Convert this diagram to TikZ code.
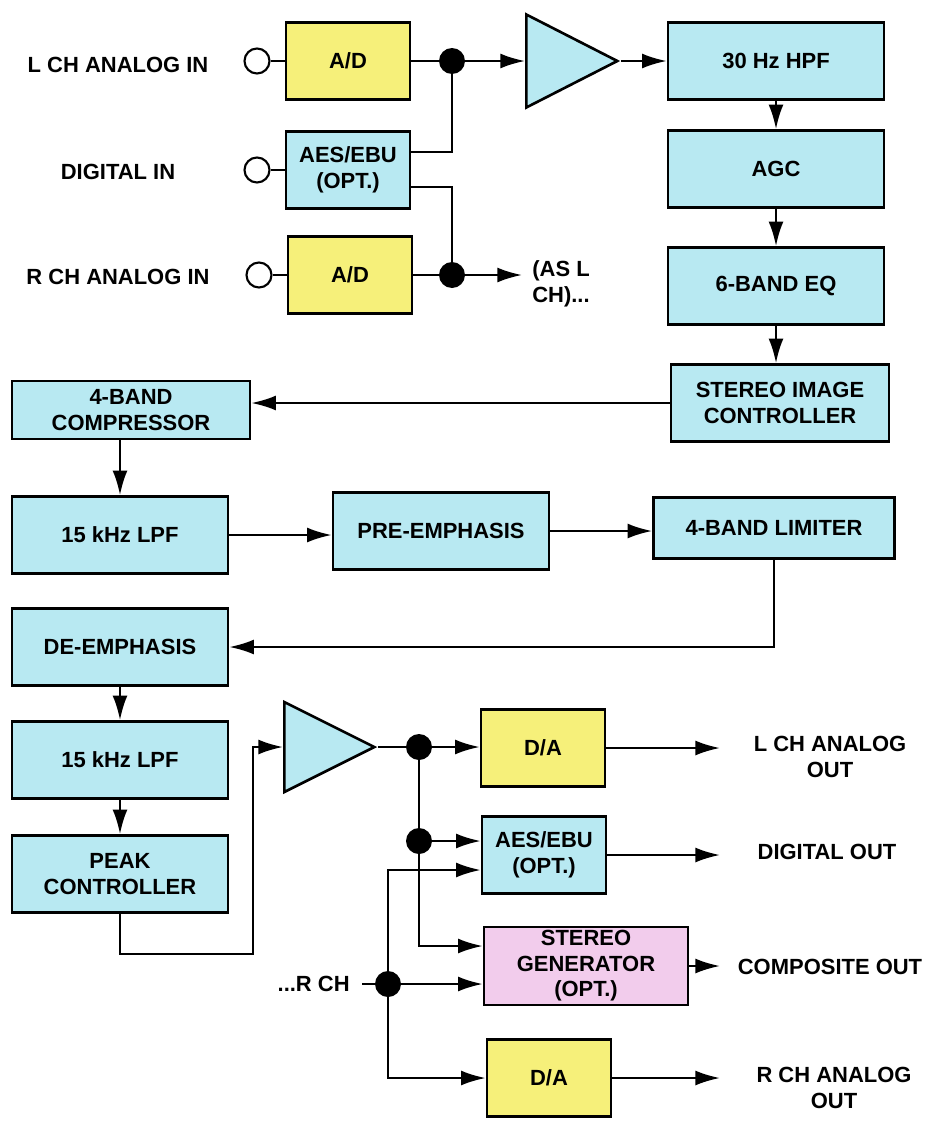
\documentclass[tikz,border=0pt]{standalone}
\usepackage{fontspec}
\setmainfont{Liberation Sans}
\usetikzlibrary{arrows.meta,shapes.geometric,calc}
\definecolor{adyellow}{RGB}{246,240,122}
\definecolor{dspcyan}{RGB}{184,233,242}
\definecolor{genpink}{RGB}{242,204,236}
\tikzset{block/.style = {shape = rectangle, draw, line width = 1.5pt, fill = dspcyan, align = center, inner sep = 0pt, font = \bfseries\fontsize{12.5}{14.5}\selectfont}}
\tikzset{conv/.style = {block, fill = adyellow}}
\tikzset{wide/.style = {minimum width = 4.32cm, minimum height = 1.54cm}}
\tikzset{narrow/.style = {minimum width = 2.48cm, minimum height = 1.54cm}}
\tikzset{amp/.style = {shape = isosceles triangle, isosceles triangle stretches, draw, line width = 1.5pt, fill = dspcyan, inner sep = 0pt}}
\tikzset{jack/.style = {shape = circle, draw, line width = 1.2pt, fill = white, minimum size = 0.5cm, inner sep = 0pt}}
\tikzset{dot/.style = {shape = circle, fill = black, minimum size = 0.52cm, inner sep = 0pt}}
\tikzset{sigtext/.style = {align = center, font = \bfseries\fontsize{12.5}{14.5}\selectfont}}
\tikzset{wire/.style = {line width = 1.3pt}}
\tikzset{signal/.style = {wire, ->, > = {Latex[length=14pt, width=8.5pt]}}}

\begin{document}
\begin{tikzpicture}[x=0.02cm, y=-0.02cm]
			\useasboundingbox (0,0) rectangle (934,1126);

			% inputs
			\node[sigtext] (lchin) at (118,65) {L CH ANALOG IN};
			\node[sigtext] (digin) at (118,172) {DIGITAL IN};
			\node[sigtext] (rchin) at (118,277) {R CH ANALOG IN};
			\node[jack] (inL) at (257,61) {};
			\node[jack] (inD) at (257,170) {};
			\node[jack] (inR) at (259,275) {};
			\node[conv, narrow] (adL) at (348,61) {A/D};
			\node[block, narrow] (aes) at (348,170) {AES/EBU\\(OPT.)};
			\node[conv, narrow] (adR) at (350,275) {A/D};
			\node[dot] (dotL) at (452,61) {};
			\node[dot] (dotR) at (452,275) {};
			\node[sigtext, anchor = west, align = left, inner xsep = 0.2cm] (asl) at (522,284) {(AS L\\CH)...};
			\node[amp, minimum width = 1.86cm, minimum height = 1.82cm, anchor = west] (amp1) at (525,61) {};

			% processing chain
			\node[block, wide] (hpf) at (776,61) {30 Hz HPF};
			\node[block, wide] (agc) at (776,169) {AGC};
			\node[block, wide] (eq) at (776,286) {6-BAND EQ};
			\node[block, wide, minimum width = 4.36cm] (sic) at (780,403) {STEREO IMAGE\\CONTROLLER};
			\node[block, minimum width = 4.76cm, minimum height = 1.16cm] (comp) at (131,410) {4-BAND\\COMPRESSOR};
			\node[block, wide] (lpf1) at (120,535) {15 kHz LPF};
			\node[block, wide] (pre) at (441,531) {PRE-EMPHASIS};
			\node[block, minimum width = 4.82cm, minimum height = 1.22cm] (lim) at (774,528) {4-BAND LIMITER};
			\node[block, wide] (de) at (120,647) {DE-EMPHASIS};
			\node[block, wide] (lpf2) at (120,760) {15 kHz LPF};
			\node[block, wide] (peak) at (120,874) {PEAK\\CONTROLLER};
			\coordinate (pkbend) at (253,954);
			\node[amp, minimum width = 1.8cm, minimum height = 1.8cm, anchor = west] (amp2) at (283,747) {};

			% outputs
			\node[dot] (dot1) at (419,747) {};
			\node[dot] (dot2) at (419,841) {};
			\node[dot] (dot3) at (388,984) {};
			\node[sigtext, anchor = east, inner xsep = 0.24cm] (rch) at (362,984) {...R CH};
			\node[conv, narrow] (daL) at (543,748) {D/A};
			\node[block, narrow] (aesout) at (544,855) {AES/EBU\\(OPT.)};
			\node[block, minimum width = 4.08cm, minimum height = 1.56cm, fill = genpink] (sgen) at (586,966) {STEREO\\GENERATOR\\(OPT.)};
			\node[conv, narrow] (daR) at (549,1078) {D/A};
			\coordinate (outx) at (720,0);
			\node[sigtext] (lchout) at (830,757) {L CH ANALOG\\OUT};
			\node[sigtext] (digout) at (827,852) {DIGITAL OUT};
			\node[sigtext] (compout) at (830,967) {COMPOSITE OUT};
			\node[sigtext] (rchout) at (834,1088) {R CH ANALOG\\OUT};

			\draw[wire] (inL) -- (adL);
			\draw[wire] (inD) -- (aes);
			\draw[wire] (inR) -- (adR);
			\draw[wire] (adL) -- (dotL);
			\draw[wire] (adR) -- (dotR);
			\draw[wire] ($(aes.east)+(0,-18)$) -| (dotL);
			\draw[wire] ($(aes.east)+(0,17)$) -| (dotR);
			\draw[signal] (dotL) -- (amp1.west);
			\draw[signal] (dotR) -- (dotR -| asl.west);
			\draw[signal] (amp1.apex) -- (hpf.west);
			\draw[signal] (hpf) -- (agc);
			\draw[signal] (agc) -- (eq);
			\draw[signal] (eq.south) -- (eq.south |- sic.north);
			\draw[signal] (sic.west) -- (sic.west -| comp.east);
			\draw[signal] (lpf1.north |- comp.south) -- (lpf1.north);
			\draw[signal] (lpf1.east) -- (lpf1.east -| pre.west);
			\draw[signal] (pre.east) -- (pre.east -| lim.west);
			\draw[signal] (lim.south) |- (de.east);
			\draw[signal] (de) -- (lpf2);
			\draw[signal] (lpf2) -- (peak);
			\draw[signal] (peak.south) |- (pkbend) |- (amp2.west);
			\draw[wire] (amp2.apex) -- (dot1);
			\draw[wire] (dot1) -- (dot2);
			\draw[signal] (dot1) -- (dot1 -| daL.west);
			\draw[signal] (dot2) -- (dot2 -| aesout.west);
			\draw[signal] (dot2) |- ($(sgen.west)+(0,-20)$);
			\draw[wire] (rch.east) -- (dot3);
			\draw[signal] (dot3) |- ($(aesout.west)+(0,15)$);
			\draw[signal] (dot3) -- (dot3 -| sgen.west);
			\draw[signal] (dot3) |- (daR.west);
			\draw[signal] (daL.east) -- (daL.east -| outx);
			\draw[signal] (aesout.east) -- (aesout.east -| outx);
			\draw[signal] (sgen.east) -- (sgen.east -| outx);
			\draw[signal] (daR.east) -- (daR.east -| outx);
		\end{tikzpicture}
\end{document}
